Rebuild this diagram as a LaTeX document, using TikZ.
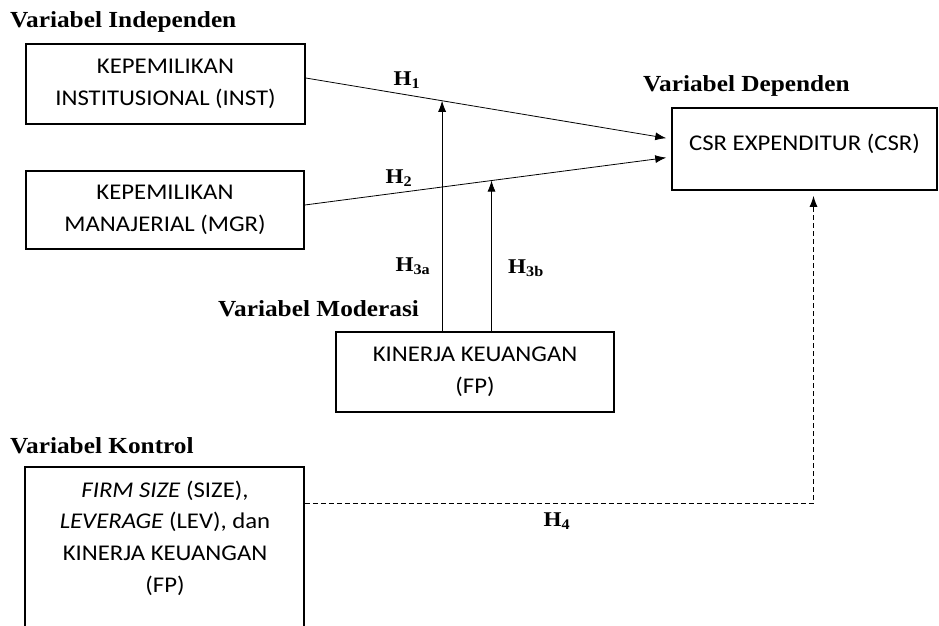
\documentclass[tikz,border=0pt]{standalone}
\usepackage{fontspec}
\setmainfont{Carlito}[FakeStretch=1.1]
\newfontfamily\hfont{Liberation Serif}[FakeStretch=1.1]
\usetikzlibrary{arrows.meta,calc}
\begin{document}
\begin{tikzpicture}[x=1pt,y=-1pt,
  box/.style={draw,line width=1.6pt,inner sep=0pt,align=center,
    font=\fontsize{22.5}{32}\selectfont},
  head/.style={anchor=base west,inner sep=0pt,font=\hfont\bfseries\fontsize{23}{26}\selectfont},
  hyp/.style={inner sep=0pt,font=\hfont\bfseries\fontsize{21}{24}\selectfont},
  conn/.style={line width=0.8pt,-{Latex[length=11pt,width=8pt]}},
  dconn/.style={line width=1pt,dash pattern=on 5pt off 3pt,-{Latex[length=11pt,width=8pt]}}]
\useasboundingbox (0,0) rectangle (939,626);
\clip (0,0) rectangle (939,626);
% headings
\node[head] (hind) at (10,28) {Variabel Independen};
\node[head] (hdep) at (643,91) {Variabel Dependen};
\node[head] (hmod) at (218,316) {Variabel Moderasi};
\node[head] (hkon) at (10,453) {Variabel Kontrol};
% boxes
\node[box,minimum width=279pt,minimum height=80pt] (inst) at (165.5,84) {KEPEMILIKAN\\INSTITUSIONAL (INST)};
\node[box,minimum width=278pt,minimum height=78pt] (mgr) at (165,210) {KEPEMILIKAN\\MANAJERIAL (MGR)};
\node[box,minimum width=265pt,minimum height=82pt] (csr) at (804.5,149) {};
\node[inner sep=0pt,anchor=base,font=\fontsize{22.5}{32}\selectfont] (csrt) at (804.5,150) {CSR EXPENDITUR (CSR)};
\node[box,minimum width=278pt,minimum height=80pt] (fp) at (475,372) {KINERJA KEUANGAN\\(FP)};
\node[box,minimum width=279pt,minimum height=233pt] (ctl) at (164.5,583.5) {};
\node[inner sep=0pt,align=center,font=\fontsize{22.5}{31.7}\selectfont] (ctlt) at (165,538)
  {\textit{FIRM SIZE} (SIZE),\\\textit{LEVERAGE} (LEV), dan\\KINERJA KEUANGAN\\(FP)};
% connectors
\draw[conn,shorten >=5pt] ([yshift=6pt]inst.east) -- ([yshift=10pt]csr.west)
  coordinate[pos=0.373] (m1);
\draw[conn,shorten >=5pt] ([yshift=5pt]mgr.east) -- ([yshift=-8pt]csr.west)
  coordinate[pos=0.5096] (m2);
\draw[conn] (fp.north -| m1) -- (m1);
\draw[conn] (fp.north -| m2) -- (m2);
\draw[dconn] ([yshift=80.5pt]ctl.east) -| ([xshift=9pt,yshift=-5pt]csr.south);
% hypothesis labels
\node[hyp] (h1) at (407,80) {H\textsubscript{1}};
\node[hyp] (h2) at (399,178) {H\textsubscript{2}};
\node[hyp] (h3a) at (413,266) {H\textsubscript{3a}};
\node[hyp] (h3b) at (526,268) {H\textsubscript{3b}};
\node[hyp] (h4) at (557,521) {H\textsubscript{4}};
\end{tikzpicture}
\end{document}
